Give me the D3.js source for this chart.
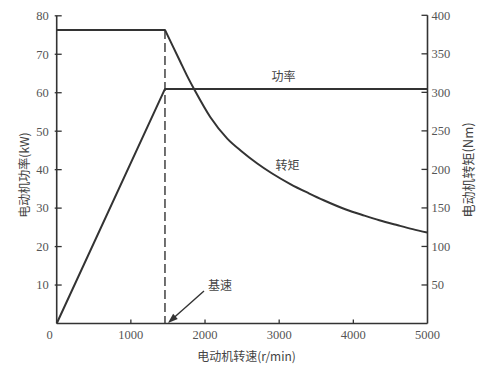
<!DOCTYPE html>
<html><head><meta charset="utf-8">
<script src="https://cdn.jsdelivr.net/npm/d3@7"></script>
<style>
body{margin:0;background:#fff;}
svg{display:block;}
</style></head>
<body>
<svg id="c" width="479" height="371"></svg>
<script>
// Data
const speedTicks = [1000, 2000, 3000, 4000, 5000];
const powerTicks = [10, 20, 30, 40, 50, 60, 70, 80];
const torqueTicks = [50, 100, 150, 200, 250, 300, 350, 400];
const baseSpeed = 1460;
const powerSpeed = [0, 1460, 5000];
const powerValues = [0, 61, 61];
const torqueSpeed = [0, 1460, 1575, 1665, 1755, 1865, 2070, 2300, 2500, 2700, 2900, 3150, 3400, 3600, 3900, 4150, 4350, 4600, 4800, 5000];
const torqueValues = [381, 381, 358, 340, 322, 302, 268, 240, 223, 208, 195, 181, 169, 160, 148, 140, 134, 127.5, 122.5, 118];
const labels = {power: "功率", torque: "转矩", base: "基速",
  xTitle: "电动机转速(r/min)", yLeft: "电动机功率(kW)", yRight: "电动机转矩(Nm)"};

const svg = d3.select("#c");
const x = d3.scaleLinear().domain([0, 5000]).range([56.7, 427.5]);
const yL = d3.scaleLinear().domain([0, 80]).range([323.5, 15.8]);
const yR = d3.scaleLinear().domain([0, 400]).range([323.5, 15.3]);

const ink = "#333";
const numFont = "'Liberation Serif', 'Times New Roman', 'DejaVu Serif', serif";
const cjkFont = "'Noto Sans CJK SC', sans-serif";

// axes lines
const axisG = svg.append("g").attr("stroke", ink).attr("stroke-width", 1.6).attr("fill", "none");
axisG.append("line").attr("x1", x(0)).attr("x2", x(0)).attr("y1", yL(80)).attr("y2", yL(0));
axisG.append("line").attr("x1", x(5000)).attr("x2", x(5000)).attr("y1", yR(400)).attr("y2", yR(0));
axisG.append("line").attr("x1", x(0)).attr("x2", x(5000)).attr("y1", yL(0)).attr("y2", yL(0));

// left ticks (inward)
const lt = svg.append("g");
lt.selectAll("line").data(powerTicks).join("line")
  .attr("x1", x(0) - 2).attr("x2", x(0) + 5)
  .attr("y1", d => yL(d)).attr("y2", d => yL(d))
  .attr("stroke", ink).attr("stroke-width", 1.3);
lt.selectAll("text").data(powerTicks).join("text")
  .attr("x", x(0) - 8).attr("y", d => yL(d)).attr("dy", "0.35em")
  .attr("text-anchor", "end").attr("font-family", numFont).attr("font-size", 12.5)
  .attr("fill", "#555").text(d => d);

// right ticks (inward)
const rt = svg.append("g");
rt.selectAll("line").data(torqueTicks).join("line")
  .attr("x1", x(5000) - 6).attr("x2", x(5000))
  .attr("y1", d => yR(d)).attr("y2", d => yR(d))
  .attr("stroke", ink).attr("stroke-width", 1.3);
rt.selectAll("text").data(torqueTicks).join("text")
  .attr("x", x(5000) + 4).attr("y", d => yR(d)).attr("dy", "0.35em")
  .attr("text-anchor", "start").attr("font-family", numFont).attr("font-size", 12.5)
  .attr("fill", "#555").text(d => d);

// bottom ticks (inward)
const bt = svg.append("g");
bt.selectAll("line").data(speedTicks.filter(d => d < 5000)).join("line")
  .attr("x1", d => x(d)).attr("x2", d => x(d))
  .attr("y1", yL(0)).attr("y2", yL(0) - 4)
  .attr("stroke", ink).attr("stroke-width", 1.3);
bt.selectAll("text").data(speedTicks).join("text")
  .attr("x", d => x(d)).attr("y", 339)
  .attr("text-anchor", "middle").attr("font-family", numFont).attr("font-size", 12.5)
  .attr("fill", "#555").text(d => d);
svg.append("text").attr("x", x(0) - 7).attr("y", 339).attr("text-anchor", "middle")
  .attr("font-family", numFont).attr("font-size", 12.5).attr("fill", "#555").text(0);

// dashed base speed line
svg.append("line").attr("x1", x(baseSpeed)).attr("x2", x(baseSpeed))
  .attr("y1", yR(torqueValues[1])).attr("y2", yL(0))
  .attr("stroke", ink).attr("stroke-width", 1.4).attr("stroke-dasharray", "9,4");

// curves
const pLine = d3.line().x((d, i) => x(powerSpeed[i])).y(d => yL(d));
svg.append("path").attr("d", pLine(powerValues))
  .attr("fill", "none").attr("stroke", ink).attr("stroke-width", 2).attr("stroke-linejoin", "round");
const tPts = torqueValues.map((v, i) => [x(torqueSpeed[i]), yR(v)]);
const tPath = d3.line().curve(d3.curveMonotoneX);
svg.append("path").attr("d", d3.line()(tPts.slice(0, 2)) + tPath(tPts.slice(1)).replace(/^M/, "L"))
  .attr("fill", "none").attr("stroke", ink).attr("stroke-width", 2).attr("stroke-linejoin", "round");

// annotations
svg.append("text").attr("x", 283.5).attr("y", 77).attr("dy", "0.35em").attr("text-anchor", "middle")
  .attr("font-family", cjkFont).attr("font-size", 12).attr("fill", "#444").text(labels.power);
svg.append("text").attr("x", 287.5).attr("y", 166).attr("dy", "0.35em").attr("text-anchor", "middle")
  .attr("font-family", cjkFont).attr("font-size", 12).attr("fill", "#444").text(labels.torque);
svg.append("text").attr("x", 220).attr("y", 286).attr("dy", "0.35em").attr("text-anchor", "middle")
  .attr("font-family", cjkFont).attr("font-size", 12).attr("fill", "#444").text(labels.base);

// arrow
const tipX = x(baseSpeed) + 3, tipY = yL(0) - 0.5;
const fromX = 204, fromY = 291;
svg.append("line").attr("x1", fromX).attr("y1", fromY).attr("x2", tipX + 5).attr("y2", tipY - 4.5)
  .attr("stroke", ink).attr("stroke-width", 1.4);
const ang = Math.atan2(tipY - fromY, tipX - fromX);
const L = 10, W = 3.5;
const bx = tipX - L * Math.cos(ang), by = tipY - L * Math.sin(ang);
svg.append("path").attr("d", `M${tipX},${tipY}L${bx + W * Math.sin(ang)},${by - W * Math.cos(ang)}L${bx - W * Math.sin(ang)},${by + W * Math.cos(ang)}Z`)
  .attr("fill", ink);

// axis titles
svg.append("text").attr("x", 246.5).attr("y", 357).attr("dy", "0.35em").attr("text-anchor", "middle")
  .attr("font-family", cjkFont).attr("font-size", 12).attr("fill", "#444").text(labels.xTitle);
svg.append("text").attr("transform", "translate(25,175) rotate(-90)").attr("dy", "0.35em").attr("text-anchor", "middle")
  .attr("font-family", cjkFont).attr("font-size", 12).attr("fill", "#444").text(labels.yLeft);
svg.append("text").attr("transform", "translate(468,170) rotate(-90)").attr("dy", "0.35em").attr("text-anchor", "middle")
  .attr("font-family", cjkFont).attr("font-size", 13).attr("fill", "#444").text(labels.yRight);
</script>
</body></html>
